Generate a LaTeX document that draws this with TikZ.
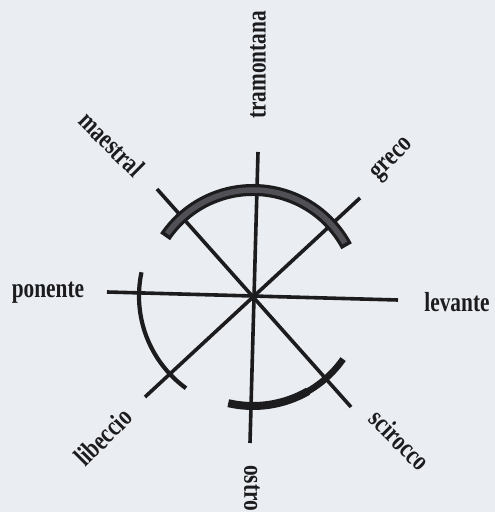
\documentclass[tikz,border=0pt]{standalone}
\usepackage{fontspec}
\setmainfont{Liberation Serif}
\usepackage{graphicx}
\definecolor{paper}{RGB}{234,237,241}
\definecolor{ink}{RGB}{28,28,30}
\definecolor{bandgray}{RGB}{80,80,86}
\tikzset{
  spoke/.style={draw=ink, line width=3.6pt},
  lbl/.style={font=\fontsize{22}{24}\selectfont\bfseries, text=ink, inner sep=0pt},
}
\newcommand{\lbltext}[1]{\scalebox{0.97}[1.25]{#1}}
\begin{document}
\begin{tikzpicture}[x=1pt,y=1pt]
\fill[paper] (0,0) rectangle (495,512);
\useasboundingbox (0,0) rectangle (495,512);
\coordinate (C) at (253,216);
% spoke ends
\coordinate (N) at (258,360);
\coordinate (S) at (250,69);
\coordinate (W) at (107,220);
\coordinate (E) at (398,212);
\coordinate (NW) at (157,323);
\coordinate (SE) at (351,105);
\coordinate (NE) at (360,314);
\coordinate (SW) at (145,115);
\draw[spoke] (N) -- (S);
\draw[spoke] (W) -- (E);
\draw[spoke] (NW) -- (SE);
\draw[spoke] (NE) -- (SW);
% top band arc
\draw[ink, line width=12pt] ([shift={(28:106)}]C) arc[start angle=28, end angle=146, radius=106];
\draw[bandgray, line width=5.5pt] ([shift={(30:106)}]C) arc[start angle=30, end angle=144, radius=106];
% left arc
\draw[ink, line width=4.2pt] ([shift={(168:114)}]C) arc[start angle=168, end angle=234, radius=114];
% bottom arc
\draw[ink, line width=8pt] ([shift={(257:110)}]C) arc[start angle=257, end angle=300, radius=110];
\draw[ink, line width=6.5pt] ([shift={(299:110)}]C) arc[start angle=299, end angle=325, radius=110];
% labels
\node[lbl, rotate=90] (tramontana) at (258,447) {\lbltext{tramontana}};
\node[lbl, rotate=-45] (maestral) at (112,368) {\lbltext{maestral}};
\node[lbl, rotate=45] (greco) at (393,352) {\lbltext{greco}};
\node[lbl] (ponente) at (48,219) {\lbltext{ponente}};
\node[lbl] (levante) at (457,210) {\lbltext{levante}};
\node[lbl, rotate=45] (libeccio) at (103,75) {\lbltext{libeccio}};
\node[lbl, rotate=-45] (scirocco) at (400,72) {\lbltext{scirocco}};
\node[lbl, rotate=-90] (ostro) at (252,24) {\lbltext{ostro}};
\end{tikzpicture}
\end{document}
